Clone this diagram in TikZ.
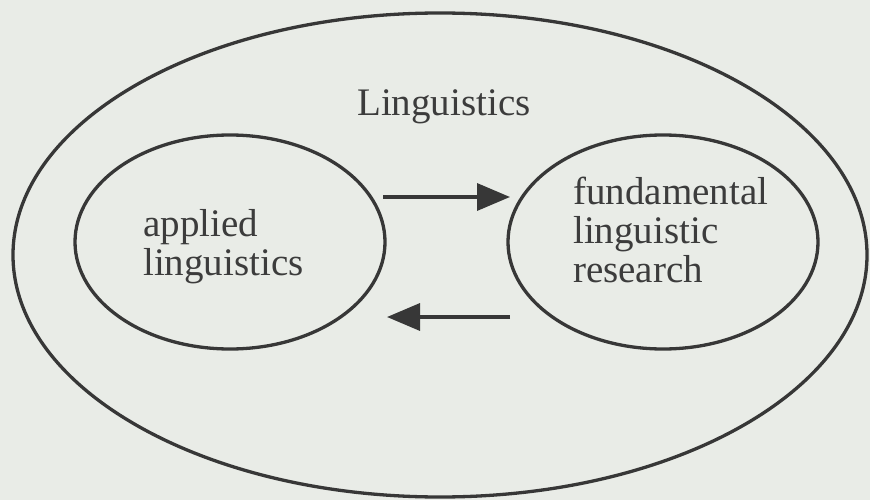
\documentclass[tikz,border=0pt]{standalone}
\usepackage{fontspec}
\setmainfont{Liberation Serif}
\usetikzlibrary{shapes.geometric}
\usetikzlibrary{arrows.meta}
\definecolor{paper}{RGB}{233,236,231}
\definecolor{ink}{RGB}{55,55,55}
\definecolor{txt}{RGB}{60,60,60}
\tikzset{
  field/.style={draw=ink, line width=3.3pt, ellipse, inner sep=0pt},
  word/.style={text=txt, inner sep=0pt, align=left, anchor=base west,
    font=\fontsize{39}{39}\selectfont},
  flow/.style={draw=ink, line width=3.5pt, -{Triangle[length=33pt,width=27pt]}}
}

\begin{document}
\begin{tikzpicture}[x=1pt,y=-1pt]
\fill[paper] (0,0) rectangle (870,500);
\useasboundingbox (0,0) rectangle (870,500);

\node[field, minimum width=854pt, minimum height=484pt] (ling) at (440,255) {};
\node[field, minimum width=310pt, minimum height=214pt] (app) at (230,242) {};
\node[field, minimum width=310pt, minimum height=214pt] (fund) at (663,242) {};

\node[word] (lingtext) at (357,116) {Linguistics};
\node[word] (apptext) at (143,275) {applied\\linguistics};
\node[word] (fundtext) at (573,282) {fundamental\\linguistic\\research};

% arrows between the two fields
\draw[flow] ([shift={(153,-45)}]app.center) -- ([shift={(-153,-45)}]fund.center);
\draw[flow] ([shift={(-153,75)}]fund.center) -- ([shift={(157,75)}]app.center);
\end{tikzpicture}
\end{document}
